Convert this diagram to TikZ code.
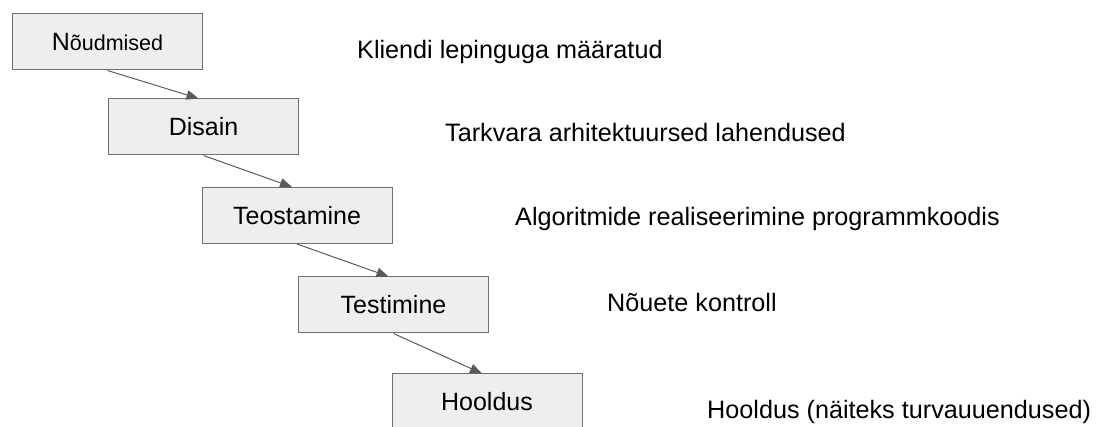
\documentclass[tikz,border=0pt]{standalone}
\usepackage{fontspec}
\setmainfont{Liberation Sans}
\usetikzlibrary{arrows.meta}
\definecolor{boxfill}{HTML}{EEEEEE}
\definecolor{boxline}{HTML}{707070}
\definecolor{arrowline}{HTML}{5A5A5A}
\begin{document}
\begin{tikzpicture}[x=1pt,y=-1pt,
  phase/.style={draw=boxline, line width=1pt, fill=boxfill,
    minimum width=190pt, minimum height=56pt, inner sep=0pt,
    font=\fontsize{25}{29}\selectfont},
  note/.style={anchor=base west, inner sep=0pt,
    font=\fontsize{25.2}{29}\selectfont},
  flow/.style={draw=arrowline, line width=1pt,
    -{Triangle[length=12pt,width=9.5pt]}}]
\useasboundingbox (0,0) rectangle (1098,427);
\clip (0,0) rectangle (1098,427);
\fill[white] (0,0) rectangle (1098,427);

% waterfall phases
\node[phase] (req)  at (107.5,42)  {\fontsize{25}{29}\selectfont N\fontsize{21.5}{25}\selectfont õudmised};
\node[phase] (des)  at (203.5,127) {Disain};
\node[phase] (impl) at (297,215.5) {Teostamine};
\node[phase] (test) at (393.5,305) {Testimine};
\node[phase] (main) at (487,402)   {Hooldus};

% transitions between phases
\draw[flow] (req.south)  -- ([xshift=-5pt]des.north);
\draw[flow] (des.south)  -- ([xshift=-5pt]impl.north);
\draw[flow] (impl.south) -- ([xshift=-5pt]test.north);
\draw[flow] (test.south) -- ([xshift=-5pt]main.north);

% descriptions
\node[note] (n1) at (357,59)  {Kliendi lepinguga määratud};
\node[note] (n2) at (445,142) {Tarkvara arhitektuursed lahendused};
\node[note] (n3) at (515,226) {Algoritmide realiseerimine programmkoodis};
\node[note] (n4) at (607,312) {Nõuete kontroll};
\node[note] (n5) at (707,419) {Hooldus (näiteks turvauuendused)};
\end{tikzpicture}
\end{document}
